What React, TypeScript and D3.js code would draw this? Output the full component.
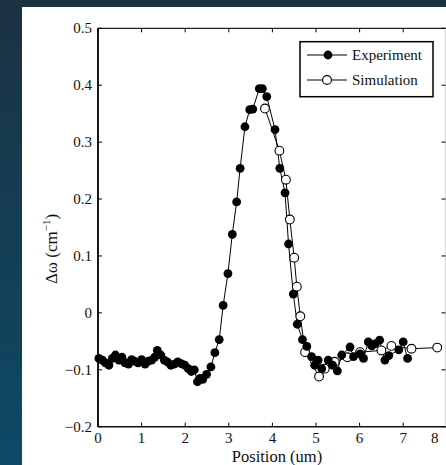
import React from "react";
import * as d3 from "d3";

const expX = [0.02,0.10,0.17,0.25,0.33,0.40,0.48,0.55,0.62,0.70,0.77,0.84,0.92,1.00,1.08,1.15,1.23,1.30,1.36,1.44,1.52,1.59,1.67,1.75,1.83,1.91,1.99,2.07,2.14,2.21,2.28,2.34,2.40,2.49,2.59,2.68,2.78,2.87,2.98,3.08,3.18,3.26,3.37,3.48,3.55,3.70,3.77,3.87,4.06,4.17,4.29,4.37,4.48,4.57,4.69,4.79,4.90,4.97,5.05,5.13,5.28,5.38,5.49,5.59,5.78,5.86,6.01,6.09,6.20,6.28,6.36,6.46,6.58,6.67,6.90,7.00,7.10];
const expY = [-0.080,-0.083,-0.088,-0.092,-0.080,-0.074,-0.083,-0.078,-0.088,-0.090,-0.082,-0.085,-0.088,-0.082,-0.090,-0.085,-0.083,-0.078,-0.066,-0.074,-0.083,-0.086,-0.092,-0.090,-0.086,-0.089,-0.092,-0.098,-0.103,-0.100,-0.121,-0.115,-0.117,-0.108,-0.095,-0.070,-0.047,0.013,0.069,0.138,0.195,0.254,0.327,0.357,0.358,0.394,0.394,0.380,0.322,0.254,0.211,0.121,0.033,-0.020,-0.047,-0.059,-0.077,-0.092,-0.083,-0.098,-0.083,-0.092,-0.102,-0.074,-0.060,-0.077,-0.072,-0.080,-0.051,-0.058,-0.054,-0.048,-0.083,-0.075,-0.065,-0.051,-0.080];

const simX = [3.83,4.16,4.31,4.40,4.50,4.56,4.64,4.75,5.07,5.20,5.43,5.72,6.01,6.50,6.73,7.19,7.78];
const simY = [0.359,0.285,0.234,0.164,0.097,0.046,-0.006,-0.069,-0.112,-0.098,-0.086,-0.078,-0.069,-0.066,-0.058,-0.063,-0.061];

const xTicks = [0,1,2,3,4,5,6,7,8];
const yTicks = [-0.2,-0.1,0,0.1,0.2,0.3,0.4,0.5];
const yTickLabels = ["\u22120.2","\u22120.1","0","0.1","0.2","0.3","0.4","0.5"];
const seriesNames = ["Experiment","Simulation"];

export default function App() {
  const W = 446, H = 465;
  const x = d3.scaleLinear().domain([0, 8]).range([98, 446.8]);
  const y = d3.scaleLinear().domain([-0.2, 0.5]).range([426.7, 28.3]);
  const line = d3.line<[number, number]>().x(d => x(d[0])).y(d => y(d[1]));
  const exp = expX.map((v, i) => [v, expY[i]] as [number, number]);
  const sim = simX.map((v, i) => [v, simY[i]] as [number, number]);
  const font = "'Liberation Serif', 'DejaVu Serif', serif";
  const x0 = x(0), x1 = 445.5, yTop = y(0.5), yBot = y(-0.2);
  return (
    <svg width={W} height={H} style={{ position: "absolute", left: 0, top: 0 }}>
      <defs>
        <linearGradient id="bg" x1="0" y1="0" x2="0" y2="1">
          <stop offset="0" stopColor="#1c3242" />
          <stop offset="1" stopColor="#0d4a66" />
        </linearGradient>
      </defs>
      <rect x={0} y={0} width={W} height={H} fill="url(#bg)" />
      <rect x={22} y={7} width={W - 22} height={H - 7} fill="#ffffff" />
      {/* frame */}
      <line x1={x0} x2={x0} y1={yTop} y2={yBot} stroke="#000" strokeWidth={1.8} />
      <line x1={x0} x2={W} y1={yBot} y2={yBot} stroke="#111" strokeWidth={1.6} />
      <line x1={x0} x2={W} y1={yTop} y2={yTop} stroke="#222" strokeWidth={1.2} />
      <line x1={x1} x2={x1} y1={yTop} y2={yBot} stroke="#ccc" strokeWidth={0.8} />
      {/* x ticks */}
      {xTicks.map((t, i) => (
        <g key={"xt" + t}>
          <line x1={x(t)} x2={x(t)} y1={yBot} y2={yBot - 4} stroke="#000" strokeWidth={1} />
          <line x1={x(t)} x2={x(t)} y1={yTop} y2={yTop + 4} stroke="#000" strokeWidth={1} />
          <text x={i === xTicks.length - 1 ? x(t) - 12 : x(t)} y={443} textAnchor="middle" fontFamily={font} fontSize={15} fill="#111">{t}</text>
        </g>
      ))}
      {/* y ticks */}
      {yTicks.map((t, i) => (
        <g key={"yt" + t}>
          <line x1={x0} x2={x0 + 4} y1={y(t)} y2={y(t)} stroke="#000" strokeWidth={1} />
          <line x1={x1} x2={x1 - 4} y1={y(t)} y2={y(t)} stroke="#000" strokeWidth={1} />
          <text x={92} y={y(t) + 5} textAnchor="end" fontFamily={font} fontSize={15} fill="#111">{yTickLabels[i]}</text>
        </g>
      ))}
      {/* series lines */}
      <path d={line(exp) || ""} fill="none" stroke="#000" strokeWidth={1} />
      <path d={line(sim) || ""} fill="none" stroke="#000" strokeWidth={1} />
      {sim.map((d, i) => (
        <circle key={"s" + i} cx={x(d[0])} cy={y(d[1])} r={4.4} fill="#fff" stroke="#000" strokeWidth={1.1} />
      ))}
      {exp.map((d, i) => (
        <circle key={"e" + i} cx={x(d[0])} cy={y(d[1])} r={4.4} fill="#000" />
      ))}
      {/* legend */}
      <rect x={300} y={41.7} width={133} height={55} fill="#fff" stroke="#000" strokeWidth={1.5} />
      <line x1={307} x2={347} y1={55} y2={55} stroke="#000" strokeWidth={1.2} />
      <circle cx={328} cy={55} r={4.4} fill="#000" />
      <text x={352} y={60} fontFamily={font} fontSize={15} fill="#111">{seriesNames[0]}</text>
      <line x1={307} x2={347} y1={80} y2={80} stroke="#000" strokeWidth={1} />
      <circle cx={327} cy={80} r={4.4} fill="#fff" stroke="#000" strokeWidth={1.1} />
      <text x={352} y={85} fontFamily={font} fontSize={15} fill="#111">{seriesNames[1]}</text>
      {/* axis titles */}
      <text x={277} y={462} textAnchor="middle" fontFamily={font} fontSize={16.5} fill="#111">Position (um)</text>
      <text transform="translate(57,249) rotate(-90)" textAnchor="middle" fontFamily={font} fontSize={17} fill="#111">
        {"\u0394\u03c9 (cm"}<tspan dy={-7} fontSize={11}>{"\u22121"}</tspan><tspan dy={7}>)</tspan>
      </text>
    </svg>
  );
}
